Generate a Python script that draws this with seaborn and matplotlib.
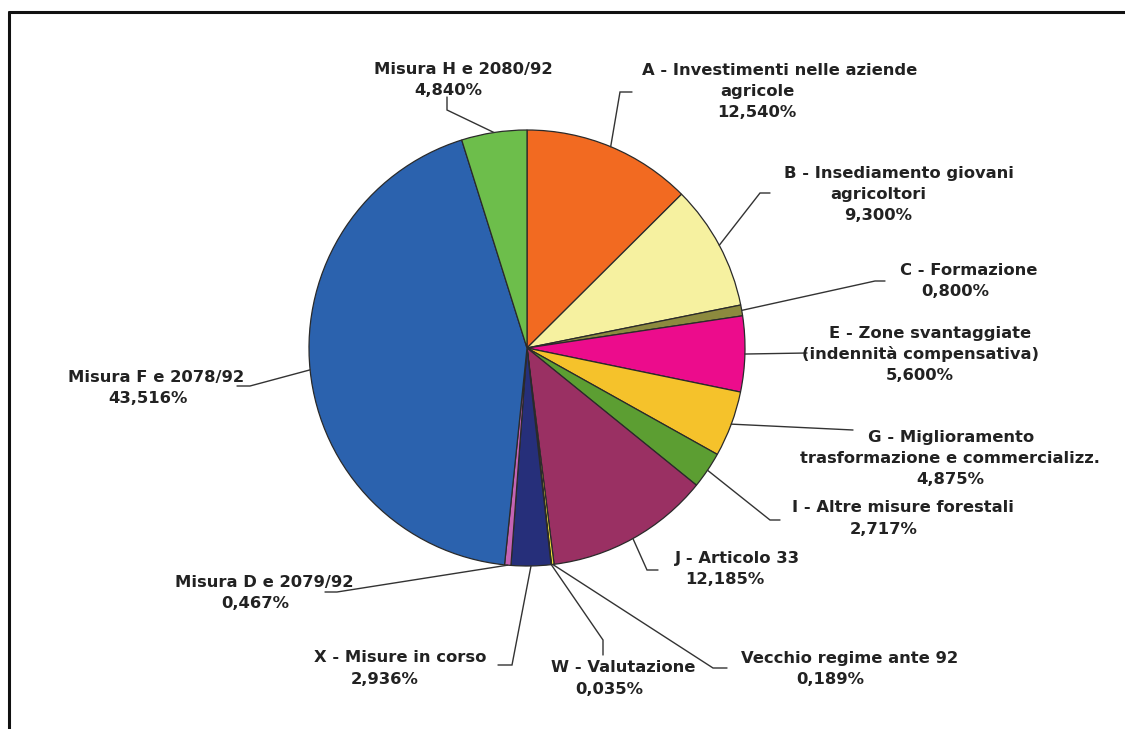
import numpy as np
import matplotlib
matplotlib.use("Agg")
import matplotlib.pyplot as plt
import seaborn as sns

# slices, clockwise from 12 o'clock
categories = ["A", "B", "C", "E", "G", "I", "J", "Vecchio", "W", "X", "D", "F", "H"]
values = [12.540, 9.300, 0.800, 5.600, 4.875, 2.717, 12.185, 0.189, 0.035, 2.936, 0.467, 43.516, 4.840]
label_lines = [
    ["A - Investimenti nelle aziende", "agricole"],
    ["B - Insediamento giovani", "agricoltori"],
    ["C - Formazione"],
    ["E - Zone svantaggiate", "(indennità compensativa)"],
    ["G - Miglioramento", "trasformazione e commercializz."],
    ["I - Altre misure forestali"],
    ["J - Articolo 33"],
    ["Vecchio regime ante 92"],
    ["W - Valutazione"],
    ["X - Misure in corso"],
    ["Misura D e 2079/92"],
    ["Misura F e 2078/92"],
    ["Misura H e 2080/92"],
]
colors = ["#F26A21", "#F6F1A0", "#8C8A3E", "#EC0C8C", "#F5C22B", "#5C9E32", "#9A3063",
          "#F2E33A", "#D8D45A", "#262F7A", "#C463B4", "#2B62AE", "#6DBE4B"]

# layout in pixels (y from top): first-line x, other-lines x, first-line y
label_pos = [(780, 757, 70), (899, 878, 173), (969, 955, 270), (930, 920, 333),
             (951, 950, 437), (903, 884, 508), (737, 725, 558), (850, 830, 658),
             (623, 609, 668), (400, 385, 658), (264, 255, 582), (156, 148, 377),
             (463, 448, 69)]
# leader elbow and end points, pixels
leaders = [((620, 92), (632, 92)), ((760, 193), (770, 193)), ((875, 281), (885, 281)),
           ((807, 353), (807, 353)), ((853, 430), (853, 430)), ((770, 520), (780, 520)),
           ((647, 570), (658, 570)), ((713, 668), (727, 668)), ((603, 640), (603, 655)),
           ((512, 665), (498, 665)), ((337, 592), (325, 592)), ((250, 386), (237, 386)),
           ((447, 110), (447, 97))]

W, H = 1125, 729
cx, cy, R = 527, H - 348, 218

sns.set_theme(style="white")
plt.rcParams["font.family"] = ["DejaVu Sans"]

fig = plt.figure(figsize=(W / 100, H / 100), dpi=100)
ax = fig.add_axes([0, 0, 1, 1])
ax.set_xlim(0, W)
ax.set_ylim(0, H)
ax.set_aspect("equal")
ax.axis("off")

wedges, _ = ax.pie(values, colors=sns.color_palette(colors), startangle=90, counterclock=False,
                   radius=R, center=(cx, cy), frame=False,
                   wedgeprops=dict(edgecolor="#2a2a2a", linewidth=0.9))
ax.set_xlim(0, W)
ax.set_ylim(0, H)
ax.axis("off")

line_step = 21
for w, lines, v, pos, (elbow, end) in zip(wedges, label_lines, values, label_pos, leaders):
    mid = np.deg2rad((w.theta1 + w.theta2) / 2)
    sx, sy = cx + R * np.cos(mid), cy + R * np.sin(mid)
    ax.plot([sx, elbow[0], end[0]], [sy, H - elbow[1], H - end[1]],
            color="#333333", lw=1.0, solid_joinstyle="miter")
    txt = lines + [f"{v:.3f}".replace(".", ",") + "%"]
    x1, xr, y1 = pos
    for i, t in enumerate(txt):
        ax.text(x1 if i == 0 else xr, H - (y1 + i * line_step), t,
                ha="center", va="center", fontsize=11.8, fontweight="bold", color="#222222")

# frame lines (left and top only)
ax.plot([9, 9], [0, H - 12], color="#111111", lw=2.2, clip_on=False)
ax.plot([9, W], [H - 12, H - 12], color="#111111", lw=2.2, clip_on=False)

fig.savefig("out.png", dpi=100, facecolor="white")
